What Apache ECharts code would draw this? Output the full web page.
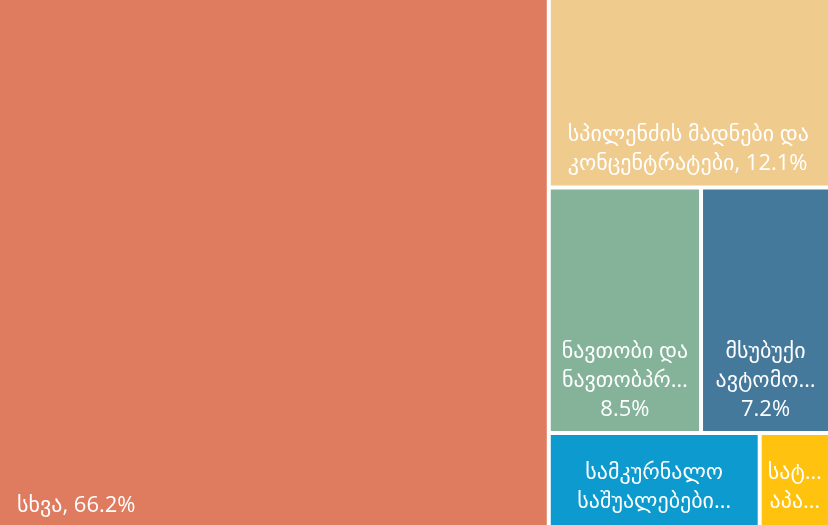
<!DOCTYPE html>
<html>
<head>
<meta charset="utf-8">
<script src="https://cdn.jsdelivr.net/npm/echarts@6/dist/echarts.min.js"></script>
<style>
html,body{margin:0;padding:0;background:#fff;}
#chart{width:828px;height:525px;}
</style>
</head>
<body>
<div id="chart"></div>
<script>
const names = ['სხვა', 'სპილენძის მადნები და კონცენტრატები', 'ნავთობი და ნავთობპროდუქტები', 'მსუბუქი ავტომობილები', 'სამკურნალო საშუალებები', 'სატელეფონო აპარატები'];
const values = [66.2, 12.1, 8.5, 7.2, 4.5, 1.5];
const displayLabels = ['სხვა, 66.2%', 'სპილენძის მადნები და\nკონცენტრატები, 12.1%', 'ნავთობი და\nნავთობპრ…\n8.5%', 'მსუბუქი\nავტომო…\n7.2%', 'სამკურნალო\nსაშუალებები…', 'სატ…\nაპა…'];
const colors = ['#DF7B5E', '#F0CB8E', '#84B39A', '#45799C', '#0C9ACF', '#FFC20E'];
const leftAligned = [true, true, false, false, false, false];
const labelShiftY = [0, -2, -2, -2, -4, -4];

const chart = echarts.init(document.getElementById('chart'));
const data = names.map((n, i) => ({
  name: n,
  value: values[i],
  itemStyle: { color: colors[i] },
  label: leftAligned[i] ? {
    position: 'insideBottomLeft',
    align: 'left',
    distance: 0,
    offset: [12, labelShiftY[i]],
    formatter: () => displayLabels[i]
  } : {
    position: 'insideBottom',
    align: 'center',
    distance: 0,
    offset: [0, labelShiftY[i]],
    formatter: () => displayLabels[i]
  }
}));
chart.setOption({
  animation: false,
  backgroundColor: '#fff',
  series: [{
    type: 'treemap',
    left: 0, top: 0, right: 0, bottom: 0,
    width: 828, height: 525,
    squareRatio: 1,
    roam: false,
    nodeClick: false,
    breadcrumb: { show: false },
    sort: 'desc',
    label: {
      show: true,
      color: '#fff',
      fontSize: 22,
      lineHeight: 29,
      fontFamily: '"Open Sans", "DejaVu Sans", sans-serif',
      overflow: 'none'
    },
    levels: [
      { itemStyle: { borderWidth: 0, gapWidth: 4, borderColor: '#fff' } },
      { itemStyle: { borderWidth: 0 } }
    ],
    data: data
  }]
});
</script>
</body>
</html>
